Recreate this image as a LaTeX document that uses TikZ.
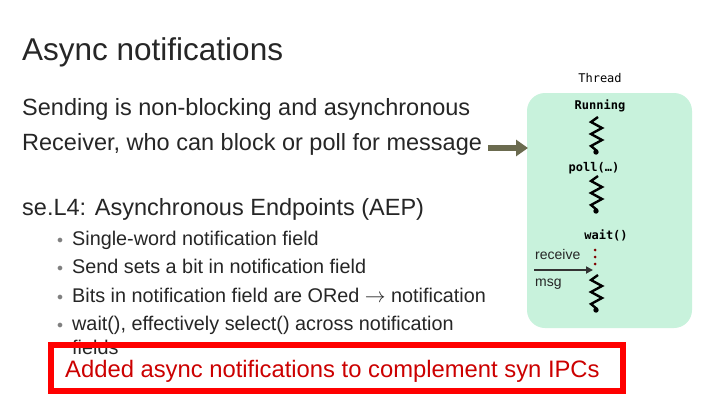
\documentclass[tikz,border=0pt]{standalone}
\usepackage{fontspec}
\setmainfont{Liberation Sans}
\newfontfamily\monof{DejaVu Sans Mono}
\usetikzlibrary{arrows.meta}
\definecolor{thrbg}{HTML}{C8F2DC}
\definecolor{olv}{HTML}{6B6B4F}
\begin{document}
\begin{tikzpicture}[x=1pt,y=-1pt,
  txt/.style={anchor=base west,inner sep=0pt,text=black!85},
  mono/.style={anchor=base,inner sep=0pt,font=\monof\bfseries\fontsize{12}{14}\selectfont},
  squig/.style={line width=2.4pt,line join=miter}]
\useasboundingbox (0,0) rectangle (720,405);
\fill[white] (0,0) rectangle (720,405);
\node[txt,font=\fontsize{31.5}{34}\selectfont] (title) at (22,60) {Async notifications};
\node[txt,font=\fontsize{23.5}{26}\selectfont] (l1) at (22,115) {Sending is non-blocking and asynchronous};
\node[txt,font=\fontsize{23.5}{26}\selectfont] (l2) at (22,150) {Receiver, who can block or poll for message};
\node[txt,font=\fontsize{23.5}{26}\selectfont] (l3) at (22,215) {se.L4: Asynchronous Endpoints (AEP)};
\foreach \y/\t [count=\i] in {245/Single-word notification field,273/Send sets a bit in notification field,302/Bits in notification field are ORed $\rightarrow$ notification,330/{wait(), effectively select() across notification}}{
  \node[txt,font=\fontsize{19.8}{22}\selectfont] (b\i) at (72,\y) {\t};
  \node[txt,font=\fontsize{12}{14}\selectfont,text=gray] at (57,\y-2) {$\bullet$};
}
\node[txt,font=\fontsize{19.8}{22}\selectfont] (b5) at (72,354) {fields};
% thread box
\node[mono,font=\monof\fontsize{12}{14}\selectfont] (thr) at (600,82) {Thread};
\fill[thrbg] (527,93) [rounded corners=18pt] rectangle (692,328);
\node[mono] (run) at (600,109) {Running};
\node[mono] (poll) at (594,171) {poll(…)};
\node[mono] (wait) at (606,239) {wait()};
\node[txt,font=\fontsize{14}{16}\selectfont] (rcv) at (535,259) {receive};
\node[txt,font=\fontsize{14}{16}\selectfont] (msg) at (535,286) {msg};
\foreach \y in {117,176,275}{
  \draw[squig] (598,\y) -- (591,\y+5) -- (602,\y+11) -- (591,\y+17) -- (602,\y+23) -- (591,\y+29) -- (597,\y+34);
  \fill (596,\y+35) circle (2.7pt);
}
\foreach \y in {250,257,264} \fill[red!50!black] (595,\y) circle (1.5pt);
\coordinate (ms) at (534,270); \coordinate (me) at (593,270);
\draw[line width=2.5pt,black!80,-{Triangle[length=7pt,width=7pt]}] (ms) -- (me);
\coordinate (as) at (488,148); \coordinate (ae) at (528,148);
\draw[line width=6pt,olv,-{Triangle[length=12pt,width=16pt]}] (as) -- (ae);
% red box
\draw[line width=6pt,red] (51,345) rectangle (623,391);
\node[txt,font=\fontsize{23.8}{26}\selectfont,text=red!80!black] (conc) at (65,377) {Added async notifications to complement syn IPCs};
\end{tikzpicture}
\end{document}
